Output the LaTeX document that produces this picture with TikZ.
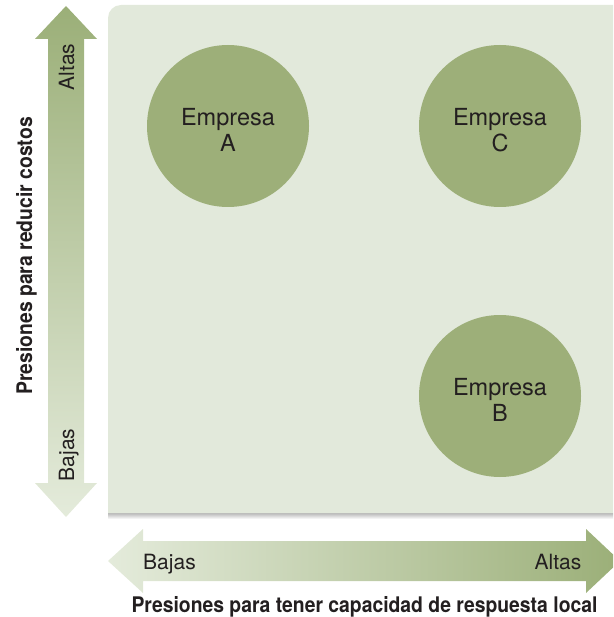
\documentclass[tikz,border=0pt]{standalone}
\usepackage{fontspec}
\setmainfont{TeX Gyre Heros}
\newfontfamily\axisfont{texgyreheros-bold.otf}[FakeStretch=0.9]
\definecolor{panelbg}{HTML}{E2E9DB}
\definecolor{sage}{HTML}{9DAF79}
\definecolor{sagelight}{HTML}{E4EBDB}
\definecolor{sagedark}{HTML}{9BAF78}
\definecolor{ink}{HTML}{231F20}

\begin{document}
\begin{tikzpicture}[
    x=1pt, y=-1pt,
    every node/.style={text=ink, inner sep=0pt},
    firm/.style={circle, fill=sage, minimum size=162pt},
    firmname/.style={align=center, font=\fontsize{23.5}{26.5}\selectfont},
    level/.style={font=\fontsize{21}{24}\selectfont, anchor=base},
    axislabel/.style={font=\axisfont\fontsize{21.5}{24}\selectfont, anchor=base},
]

% --- Canvas ---
\useasboundingbox (0,0) rectangle (613,617);
\clip (0,0) rectangle (613,617);

% --- Background panel (only top-left corner rounded) ---
\shade[top color=black!28, bottom color=white] (108,513) rectangle (613,519);
\fill[panelbg] (108,513) [rounded corners=13pt] -- (108,5) [sharp corners]
    -- (620,5) -- (620,513) -- cycle;

% --- Vertical double arrow (cost pressure) ---
\shade[top color=sagedark, bottom color=sagelight]
    (66,6) -- (97,39) -- (84,39) -- (84,483) -- (97,483) -- (66,517)
    -- (35,483) -- (48,483) -- (48,39) -- (35,39) -- cycle;
\node[level, rotate=90] (costHigh) at (74,67) {Altas};
\node[level, rotate=90] (costLow) at (74,455) {Bajas};

% --- Horizontal double arrow (local responsiveness) ---
\shade[left color=sagelight, right color=sagedark]
    (108,561) -- (143,529) -- (143,541) -- (586,541) -- (586,529) -- (620,561)
    -- (586,593) -- (586,581) -- (143,581) -- (143,593) -- cycle;
\node[level] (respLow) at (169.5,569) {Bajas};
\node[level] (respHigh) at (558,569) {Altas};

% --- Axis titles ---
\node[axislabel, rotate=90] (costAxis) at (32,256)
    {Presiones para reducir costos};
\node[axislabel] (respAxis) at (364.5,612)
    {Presiones para tener capacidad de respuesta local};

% --- Firms ---
\node[firm] (firmA) at (228,126) {};
\node[firm] (firmC) at (500,126) {};
\node[firm] (firmB) at (500,396) {};
\node[firmname] (nameA) at ([yshift=-4pt]firmA.center) {Empresa\\A};
\node[firmname] (nameC) at ([yshift=-4pt]firmC.center) {Empresa\\C};
\node[firmname] (nameB) at ([yshift=-4pt]firmB.center) {Empresa\\B};

\end{tikzpicture}
\end{document}
